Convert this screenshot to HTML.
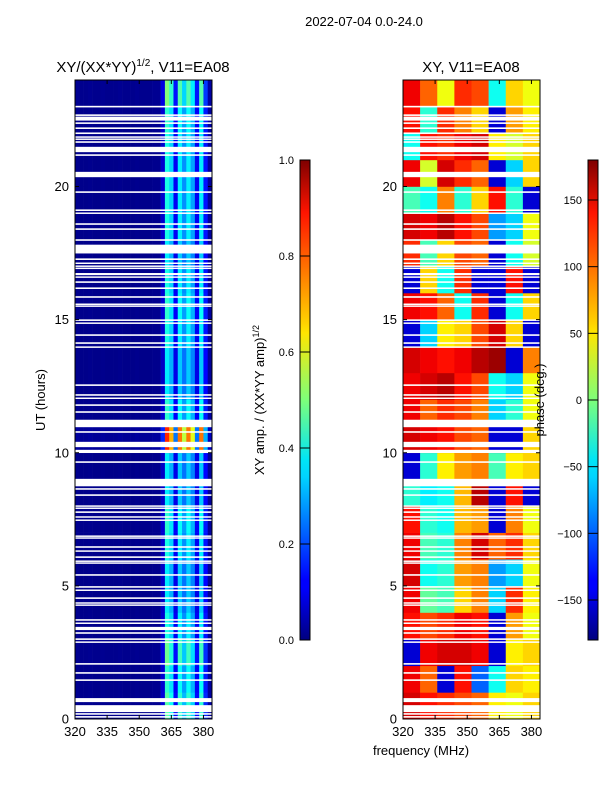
<!DOCTYPE html>
<html><head><meta charset="utf-8">
<style>
body{margin:0;background:#fff;}
svg text{font-family:"Liberation Sans",sans-serif;fill:#000;}
</style></head>
<body>
<svg id="fig" width="600" height="800" xmlns="http://www.w3.org/2000/svg">
<defs>
<linearGradient id="jet" x1="0" y1="1" x2="0" y2="0">
<stop offset="0" stop-color="#00007f"/><stop offset="0.11" stop-color="#0000ff"/>
<stop offset="0.125" stop-color="#0000ff"/><stop offset="0.34" stop-color="#00d4ff"/>
<stop offset="0.375" stop-color="#00e5f6"/><stop offset="0.5" stop-color="#7dff7a"/>
<stop offset="0.64" stop-color="#ffe600"/><stop offset="0.66" stop-color="#ffd200"/>
<stop offset="0.89" stop-color="#ff1400"/><stop offset="1" stop-color="#7f0000"/>
</linearGradient>
</defs>
<text x="364" y="26" font-size="13" text-anchor="middle">2022-07-04 0.0-24.0</text>
<g id="left"></g>
<g id="right"></g>
<g id="cb"></g>
<text x="143" y="72" font-size="15" text-anchor="middle">XY/(XX*YY)<tspan font-size="10" dy="-6">1/2</tspan><tspan dy="6">, V11=EA08</tspan></text>
<text x="471" y="72" font-size="15" text-anchor="middle">XY, V11=EA08</text>
<text x="0" y="0" font-size="13" text-anchor="middle" transform="translate(45,400) rotate(-90)">UT (hours)</text>
<text x="421" y="755" font-size="13" text-anchor="middle">frequency (MHz)</text>
<text x="0" y="0" font-size="13" text-anchor="middle" transform="translate(264,400) rotate(-90)">XY amp. / (XX*YY amp)<tspan font-size="9" dy="-5">1/2</tspan></text>
<text x="0" y="0" font-size="13" text-anchor="middle" transform="translate(544,400) rotate(-90)">phase (deg.)</text>
</svg>
<script>
const ampCols=[0.015,0.012,0.012,0.015,0.012,0.012,0.015,0.012,0.012,0.012,0.015,0.012,0.012,0.012,0.015,0.012,0.012,0.012,0.015,0.015,0.08,0.42,0.35,0.12,0.38,0.28,0.38,0.3,0.12,0.38,0.15,0.03];
const ampRowGain=[1.1,1.0,1.15,0.95,0.85,0.85,0.95,1.0,0.85,0.85,2.0,1.0,0.85,0.85,0.95,1.0,0.95,0.85,0.95,0.95,0.95,0.95,1.0,1.2];
const phaseGrid=[
[150,130,120,110,100,50,40,60],
[140,100,-150,130,-100,-40,60,50],
[-150,140,150,150,140,-150,50,60],
[130,110,120,140,130,-150,80,40],
[140,-10,-20,60,90,-60,120,50],
[150,-40,-30,80,90,-80,-60,40],
[140,-20,-30,90,150,100,120,60],
[130,-30,-40,70,80,-150,90,40],
[-30,-50,-40,70,160,-150,130,-150],
[-150,-30,50,80,90,-20,50,60],
[150,140,130,110,100,-150,-150,60],
[140,100,120,110,90,-60,-30,40],
[140,150,160,130,110,-40,-60,40],
[150,140,130,140,160,170,-150,90],
[-150,-60,50,60,110,150,60,-150],
[140,130,100,-40,120,-150,-40,60],
[-150,60,-40,120,-150,-150,130,-150],
[120,-20,60,110,100,-150,-40,30],
[150,140,160,130,110,-80,-60,40],
[-20,-40,90,-30,60,130,-30,-150],
[140,30,150,120,100,-150,-60,60],
[-40,130,120,140,150,50,30,60],
[130,-30,120,90,60,-150,80,50],
[140,100,40,120,110,-40,60,40]];
const gapHours=[23.0,22.68,22.55,22.38,22.19,22.0,21.86,21.78,21.67,21.39,21.18,20.45,19.79,19.11,19.0,18.59,18.4,17.99,17.65,17.27,17.12,17.01,16.93,16.71,16.6,16.41,16.18,15.85,15.58,15.51,14.98,14.87,14.42,14.12,13.97,12.54,12.17,12.05,11.79,11.53,11.1,10.78,10.31,10.05,9.65,8.88,8.64,8.41,8.0,7.92,7.77,7.59,7.47,6.87,6.8,6.46,6.31,6.08,5.93,5.86,5.41,4.96,4.84,4.54,4.36,4.28,3.72,3.6,3.4,3.23,3.0,2.89,2.07,1.73,1.46,0.71,0.39,0.19,0.08];
const gapWidths=[0.06,0.06,0.15,0.06,0.06,0.06,0.05,0.05,0.06,0.2,0.06,0.2,0.06,0.06,0.05,0.06,0.06,0.06,0.33,0.06,0.05,0.05,0.05,0.08,0.05,0.06,0.06,0.06,0.05,0.05,0.06,0.05,0.06,0.06,0.05,0.06,0.06,0.05,0.06,0.06,0.28,0.06,0.2,0.12,0.06,0.28,0.06,0.06,0.05,0.05,0.06,0.05,0.05,0.05,0.05,0.06,0.05,0.06,0.05,0.05,0.06,0.06,0.05,0.06,0.05,0.05,0.06,0.05,0.12,0.06,0.06,0.05,0.06,0.06,0.06,0.15,0.26,0.06,0.06];
const yTicks=[0,5,10,15,20];
const xTicks=[320,335,350,365,380];
const ampTicks=[0.0,0.2,0.4,0.6,0.8,1.0];
const phaseTicks=[-150,-100,-50,0,50,100,150];

const NS="http://www.w3.org/2000/svg";
function el(tag,attrs,parent){const e=document.createElementNS(NS,tag);for(const k in attrs)e.setAttribute(k,attrs[k]);parent.appendChild(e);return e;}
function jet(v){v=Math.max(0,Math.min(1,v));
 const r=Math.max(0,Math.min(1,Math.min(4*v-1.5,-4*v+4.5)));
 const g=Math.max(0,Math.min(1,Math.min(4*v-0.5,-4*v+3.5)));
 const b=Math.max(0,Math.min(1,Math.min(4*v+0.5,-4*v+2.5)));
 return `rgb(${Math.round(r*255)},${Math.round(g*255)},${Math.round(b*255)})`;}
const Y0=719,Y1=80,F0=320,F1=384;
const yS=h=>Y0+(Y1-Y0)*h/24;
function panel(gid,x0,x1,cellFn,ncols){
 const g=document.getElementById(gid);
 const xS=f=>x0+(x1-x0)*(f-F0)/(F1-F0);
 const df=(F1-F0)/ncols;
 for(let h=0;h<24;h++)for(let c=0;c<ncols;c++){
  const r=el('rect',{x:xS(F0+c*df),y:yS(h+1),width:xS(F0+(c+1)*df)-xS(F0+c*df)+0.3,height:yS(h)-yS(h+1)+0.3,fill:cellFn(h,c)},g);
  
  
 }
 gapHours.forEach((gh,i)=>{
  const r=el('rect',{x:x0,y:yS(gh+gapWidths[i]/2),width:x1-x0,height:Math.max(1.5,yS(gh-gapWidths[i]/2)-yS(gh+gapWidths[i]/2)),fill:'#fff'},g);
  
  
 });
 el('rect',{x:x0,y:Y1,width:x1-x0,height:Y0-Y1,fill:'none',stroke:'#000','stroke-width':1},g);
 yTicks.forEach(t=>{const y=yS(t);
  el('line',{x1:x0,x2:x0+4,y1:y,y2:y,stroke:'#000'},g);el('line',{x1:x1,x2:x1-4,y1:y,y2:y,stroke:'#000'},g);
  const tx=el('text',{x:x0-6,y:y+4.5,'font-size':13,'text-anchor':'end'},g);tx.textContent=t;
  
  });
 xTicks.forEach(t=>{const x=xS(t);
  el('line',{x1:x,x2:x,y1:Y0,y2:Y0-4,stroke:'#000'},g);el('line',{x1:x,x2:x,y1:Y1,y2:Y1+4,stroke:'#000'},g);
  const tx=el('text',{x:x,y:Y0+17,'font-size':13,'text-anchor':'middle'},g);tx.textContent=t;
  
  });
}
panel('left',75,212,(h,c)=>jet(ampCols[c]*ampRowGain[h]),ampCols.length);
panel('right',403,540,(h,c)=>jet((phaseGrid[h][c]+180)/360),8);

function colorbar(x,vmin,vmax,ticks,fmt){
 const g=document.getElementById('cb');
 const cT=160,cB=640;
 const r=el('rect',{x:x,y:cT,width:10,height:cB-cT,fill:'url(#jet)',stroke:'#000','stroke-width':1},g);
 
 
 ticks.forEach(t=>{const y=cB-(cB-cT)*(t-vmin)/(vmax-vmin);
  el('line',{x1:x,x2:x+10,y1:y,y2:y,stroke:'#000'},g);
  const tx=el('text',{x:x-6,y:y+4,'font-size':11,'text-anchor':'end'},g);tx.textContent=fmt(t);
  
  });
}
colorbar(300,0,1,ampTicks,t=>t.toFixed(1));
colorbar(588,-180,180,phaseTicks,t=>t<0?'\u2212'+(-t):String(t));
</script>
</body></html>
